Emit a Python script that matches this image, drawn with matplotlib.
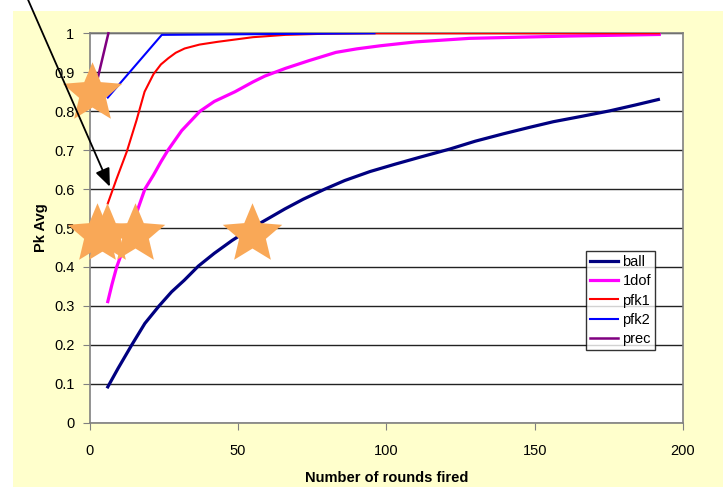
import numpy as np
import matplotlib
matplotlib.use('Agg')
import matplotlib.pyplot as plt
from matplotlib.patches import Rectangle
from matplotlib.path import Path

plt.rcParams['font.family'] = ['Liberation Sans', 'DejaVu Sans']

# data
ball_x = [6.1, 9.6, 14.2, 18.6, 23.4, 27.6, 31.9, 36.6, 42, 48, 54.6, 60.8, 65.8, 72,
          79.3, 86, 94.5, 103, 111.4, 121.5, 130, 139.5, 148, 156.3, 166, 175.4, 184, 191.7]
ball_y = [0.092, 0.14, 0.2, 0.255, 0.3, 0.336, 0.366, 0.402, 0.435, 0.468, 0.5, 0.527,
          0.549, 0.574, 0.600, 0.622, 0.645, 0.664, 0.682, 0.703, 0.723, 0.742, 0.758,
          0.773, 0.787, 0.801, 0.816, 0.830]

dof_x = [6.1, 7.5, 9.1, 11.5, 14.2, 16.3, 18.6, 21.5, 24, 26.4, 31, 37.2, 42, 49, 55,
         59, 66, 74, 83, 90, 98, 110, 128, 145, 162, 192]
dof_y = [0.311, 0.355, 0.40, 0.45, 0.50, 0.55, 0.60, 0.636, 0.67, 0.70, 0.75, 0.80,
         0.825, 0.85, 0.875, 0.89, 0.91, 0.93, 0.951, 0.96, 0.968, 0.978, 0.987, 0.99,
         0.993, 0.997]

pfk1_x = [6.1, 9, 12.5, 15.8, 18.5, 21.5, 24, 26.5, 29, 32, 37, 43, 55, 66, 80, 96, 192]
pfk1_y = [0.563, 0.625, 0.696, 0.777, 0.85, 0.895, 0.92, 0.936, 0.95, 0.961, 0.971,
          0.978, 0.99, 0.996, 0.999, 1.0, 1.0]

pfk2_x = [6.1, 24.3, 96]
pfk2_y = [0.835, 0.996, 1.0]

prec_x = [1, 6.3]
prec_y = [0.83, 1.0]

star_x = [0.7, 2.4, 5.7, 15.3, 54.6]
star_y = [0.846, 0.485, 0.485, 0.485, 0.485]

arrow_tip = (6.8, 0.606)

fig = plt.figure(figsize=(7.23, 4.92), dpi=100)
# yellow chart area
fig.patches.append(Rectangle((13 / 723, 1 - 487 / 492), 710 / 723, 476 / 492,
                             transform=fig.transFigure, facecolor='#FFFFCC',
                             edgecolor='none', zorder=-10))

ax = fig.add_axes([89.7 / 723, 1 - 422.7 / 492, 593.3 / 723, 389.4 / 492])
ax.set_facecolor('white')

ax.plot(ball_x, ball_y, color='#000080', lw=2.3, label='ball', zorder=3)
ax.plot(dof_x, dof_y, color='#FF00FF', lw=2.3, label='1dof', zorder=3)
ax.plot(pfk1_x, pfk1_y, color='#FF0000', lw=1.5, label='pfk1', zorder=3)
ax.plot(pfk2_x, pfk2_y, color='#0000FF', lw=1.5, label='pfk2', zorder=3)
ax.plot(prec_x, prec_y, color='#800080', lw=1.8, label='prec', zorder=3, clip_on=False)

star = Path.unit_regular_star(5, 0.45)
ax.plot(star_x, star_y, linestyle='none', marker=star, markersize=45,
        color='#F9A857', markeredgewidth=0, zorder=4, clip_on=False)

ax.annotate('', xy=arrow_tip, xycoords='data',
            xytext=(0.03, 1.03), textcoords='figure fraction',
            arrowprops=dict(arrowstyle='-|>,head_length=1.1,head_width=0.45',
                            color='black', lw=1.3, shrinkA=0, shrinkB=0),
            zorder=5, annotation_clip=False)

ax.set_xlim(0, 200)
ax.set_ylim(0, 1)
ax.set_xticks(np.arange(0, 201, 50))
ax.set_yticks(np.arange(0, 1.01, 0.1))
ax.set_yticklabels(['0', '0.1', '0.2', '0.3', '0.4', '0.5', '0.6', '0.7', '0.8', '0.9', '1'])
ax.yaxis.grid(True, color='#222222', lw=1.0)
ax.set_axisbelow(True)
ax.tick_params(labelsize=10.5, direction='out', length=5, color='#808080', pad=6)
ax.tick_params(axis='x', pad=10)
for s in ax.spines.values():
    s.set_color('#808080')
    s.set_linewidth(1.2)

ax.set_xlabel('Number of rounds fired', fontsize=10.5, fontweight='bold', labelpad=10)
ax.set_ylabel('Pk Avg', fontsize=10.5, fontweight='bold', labelpad=4)

leg = ax.legend(loc='upper left', bbox_to_anchor=(0.8365, 0.441), borderaxespad=0,
                fontsize=10.5, frameon=True, fancybox=False, handlelength=1.9,
                handletextpad=0.3, labelspacing=0.35, borderpad=0.3)
leg.get_frame().set_edgecolor('black')
leg.get_frame().set_linewidth(1.0)
leg.set_zorder(6)

fig.savefig('out.png', dpi=100)
